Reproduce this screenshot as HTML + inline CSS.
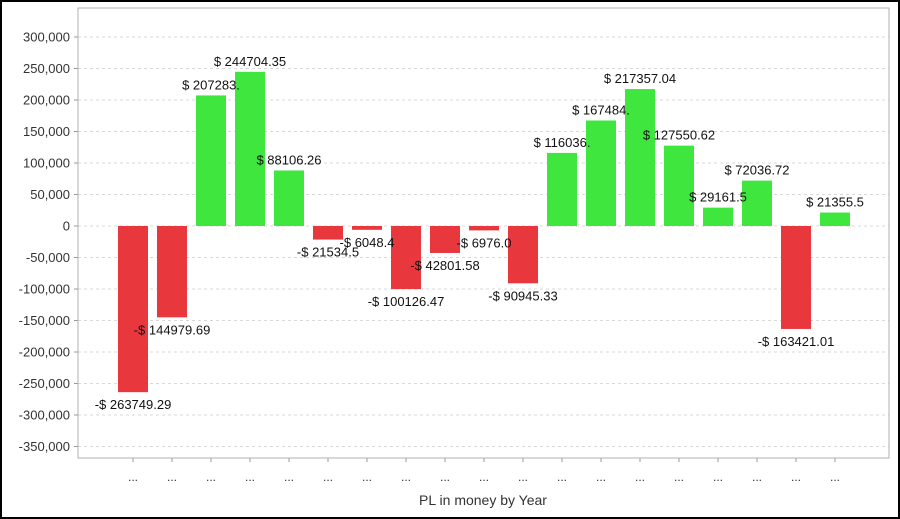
<!DOCTYPE html>
<html><head><meta charset="utf-8"><style>
html,body{margin:0;padding:0;background:#fff}
svg{display:block;font-family:"Liberation Sans",Arial,sans-serif}
</style></head><body>
<svg id="chart" width="900" height="519">
<rect x="1" y="1" width="898" height="517" fill="#fff" stroke="#000" stroke-width="2"/>
<g id="grid"></g>
<g id="yaxis"></g>
<g id="bars"></g>
<g id="labels"></g>
<g id="xaxis"></g>
<rect x="78" y="8" width="811" height="450" fill="none" stroke="#b0b0b0" stroke-width="1"/>
<text x="483" y="505" font-size="14" text-anchor="middle" fill="#333">PL in money by Year</text>
</svg>
<script>
const categories = ["...","...","...","...","...","...","...","...","...","...","...","...","...","...","...","...","...","...","..."];
const values = [-263749.29,-144979.69,207283.0,244704.35,88106.26,-21534.5,-6048.4,-100126.47,-42801.58,-6976.0,-90945.33,116036.0,167484.0,217357.04,127550.62,29161.5,72036.72,-163421.01,21355.5];
const valueLabels = ["-$ 263749.29","-$ 144979.69","$ 207283.","$ 244704.35","$ 88106.26","-$ 21534.5","-$ 6048.4","-$ 100126.47","-$ 42801.58","-$ 6976.0","-$ 90945.33","$ 116036.","$ 167484.","$ 217357.04","$ 127550.62","$ 29161.5","$ 72036.72","-$ 163421.01","$ 21355.5"];
const yTicks = [300000,250000,200000,150000,100000,50000,0,-50000,-100000,-150000,-200000,-250000,-300000,-350000];
const yTickLabels = ["300,000","250,000","200,000","150,000","100,000","50,000","0","-50,000","-100,000","-150,000","-200,000","-250,000","-300,000","-350,000"];

const NS="http://www.w3.org/2000/svg";
const y = v => 226 - v * (31.5/50000);
const band = 39, x0 = 113.5, bw = 30;
const xc = i => x0 + band*i + band/2;
function mk(tag, attrs, parent){const e=document.createElementNS(NS,tag);for(const k in attrs)e.setAttribute(k,attrs[k]);parent.appendChild(e);return e;}
const grid=document.getElementById('grid'), ya=document.getElementById('yaxis'), bars=document.getElementById('bars'), labels=document.getElementById('labels'), xa=document.getElementById('xaxis');
yTicks.forEach((t,i)=>{
  const gl=mk('line',{x1:78,x2:889,y1:y(t),y2:y(t),stroke:'#d8d8d8','stroke-dasharray':'3,3'},grid);
  
  
  const tk=mk('line',{x1:74,x2:78,y1:y(t),y2:y(t),stroke:'#999'},ya);
  
  
  const tl=mk('text',{x:70,y:y(t)+4.5,'font-size':13,'text-anchor':'end',fill:'#333'},ya);
  tl.textContent=yTickLabels[i];
  
  
});
values.forEach((v,i)=>{
  const top=Math.min(y(v),y(0)), h=Math.abs(y(v)-y(0));
  const r=mk('rect',{x:xc(i)-bw/2,y:top,width:bw,height:h,fill:v>=0?'#3ee63e':'#e8383d'},bars);
  
  
  const ly = v>=0 ? y(v)-6 : y(v)+17;
  const t=mk('text',{x:xc(i),y:ly,'font-size':13,'text-anchor':'middle',fill:'#111'},labels);
  t.textContent=valueLabels[i];
  
  
  const tk=mk('line',{x1:xc(i),x2:xc(i),y1:458,y2:462,stroke:'#999'},xa);
  
  
  const cl=mk('text',{x:xc(i),y:481,'font-size':12,'text-anchor':'middle',fill:'#333'},xa);
  cl.textContent=categories[i];
  
  
});
</script>
</body></html>
